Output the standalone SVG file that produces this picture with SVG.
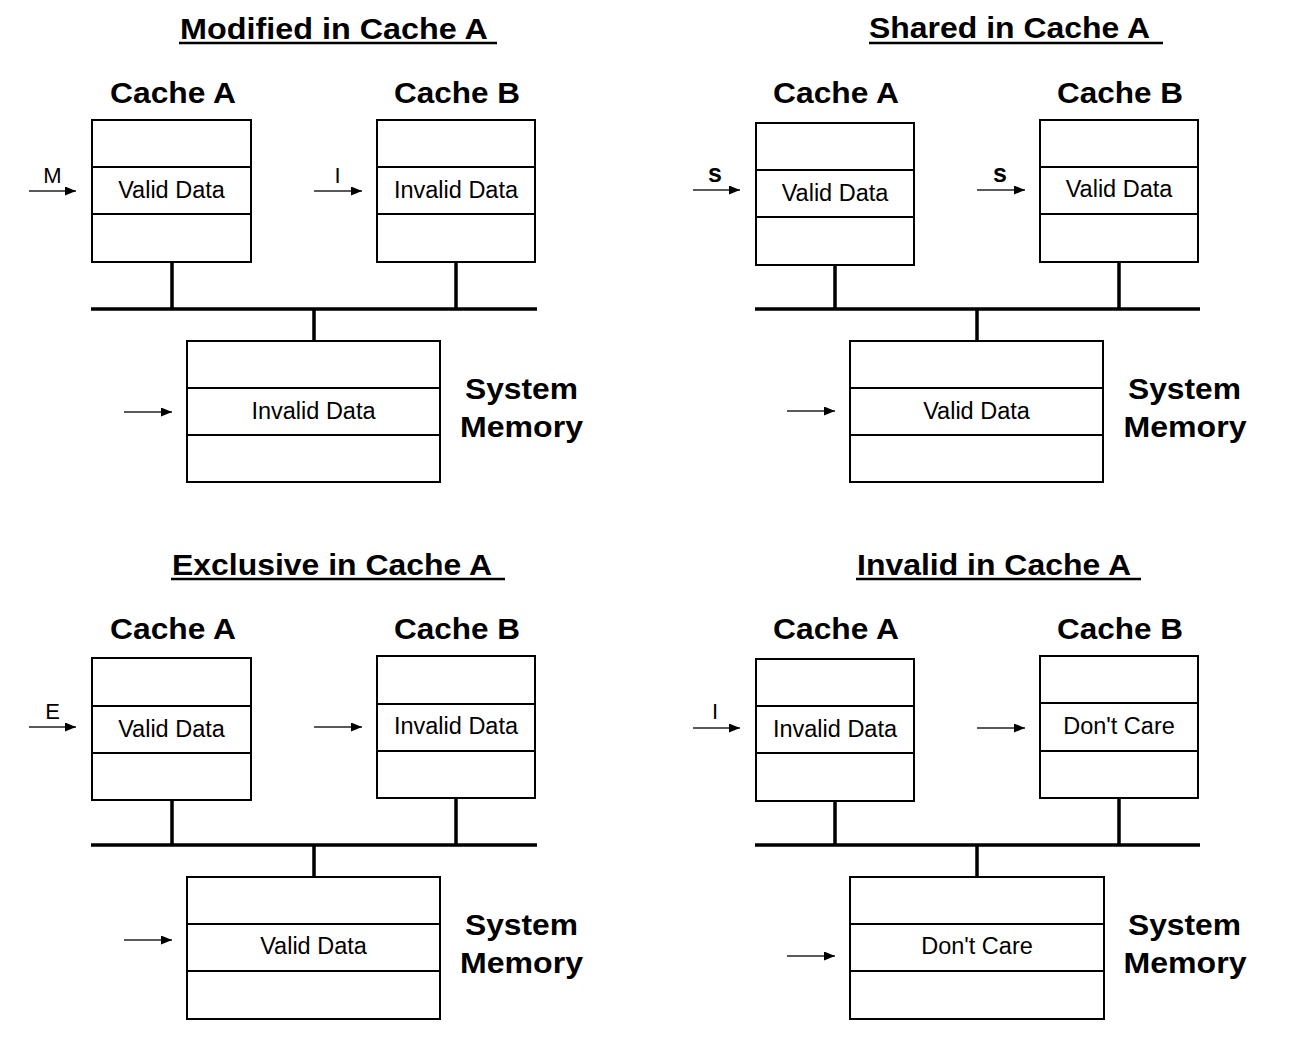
<svg xmlns="http://www.w3.org/2000/svg" width="1296" height="1041" viewBox="0 0 1296 1041">
<style>
.bg{fill:#fff}
.box{fill:none;stroke:#000;stroke-width:2}
.div{stroke:#000;stroke-width:2}
.bus{stroke:#000;stroke-width:3.5;fill:none}
.arr{stroke:#222;stroke-width:1.6;fill:none;marker-end:url(#ah)}
.ul{stroke:#000;stroke-width:2.5}
text{font-family:"Liberation Sans",Arial,sans-serif;fill:#000}
.title{font-size:29px;font-weight:bold}
.lbl{font-size:29px;font-weight:bold;text-anchor:middle}
.cell{font-size:23.5px;text-anchor:middle}
.st{font-size:22px;text-anchor:middle}
.stb{font-size:25px;font-weight:bold;text-anchor:middle}
</style>
<defs>
<marker id="ah" markerUnits="userSpaceOnUse" markerWidth="12" markerHeight="10" refX="11" refY="4.5" orient="auto">
<path d="M0,0 L11,4.5 L0,9 z" fill="#000"/>
</marker>
</defs>
<rect class="bg" x="0" y="0" width="1296" height="1041"/>

<!-- ===== Panel 1: Modified ===== -->
<g id="p1-title">
<text class="title" x="180" y="39" textLength="308" lengthAdjust="spacingAndGlyphs">Modified in Cache A</text>
<line class="ul" x1="179" y1="43" x2="497" y2="43"/>
</g>
<g id="p1-cacheA">
<text class="lbl" x="173" y="103" textLength="126" lengthAdjust="spacingAndGlyphs">Cache A</text>
<rect class="box" x="92" y="120" width="159" height="142"/>
<line class="div" x1="92" y1="167" x2="251" y2="167"/>
<line class="div" x1="92" y1="214" x2="251" y2="214"/>
<text class="cell" x="171.5" y="198">Valid Data</text>
</g>
<g id="p1-cacheB">
<text class="lbl" x="457" y="103" textLength="126" lengthAdjust="spacingAndGlyphs">Cache B</text>
<rect class="box" x="377" y="120" width="158" height="142"/>
<line class="div" x1="377" y1="167" x2="535" y2="167"/>
<line class="div" x1="377" y1="214" x2="535" y2="214"/>
<text class="cell" x="456" y="198">Invalid Data</text>
</g>
<g id="p1-mem">
<rect class="box" x="187" y="341" width="253" height="141"/>
<line class="div" x1="187" y1="388" x2="440" y2="388"/>
<line class="div" x1="187" y1="435" x2="440" y2="435"/>
<text class="cell" x="313.5" y="419">Invalid Data</text>
<text class="lbl" x="521.5" y="399" textLength="113" lengthAdjust="spacingAndGlyphs">System</text>
<text class="lbl" x="521.5" y="437" textLength="123" lengthAdjust="spacingAndGlyphs">Memory</text>
</g>

<!-- ===== Panel 2: Shared ===== -->
<g id="p2-title">
<text class="title" x="869" y="38" textLength="281" lengthAdjust="spacingAndGlyphs">Shared in Cache A</text>
<line class="ul" x1="869" y1="43" x2="1163" y2="43"/>
</g>
<g id="p2-cacheA">
<text class="lbl" x="836" y="103" textLength="126" lengthAdjust="spacingAndGlyphs">Cache A</text>
<rect class="box" x="756" y="123" width="158" height="142"/>
<line class="div" x1="756" y1="170" x2="914" y2="170"/>
<line class="div" x1="756" y1="217" x2="914" y2="217"/>
<text class="cell" x="835" y="201">Valid Data</text>
</g>
<g id="p2-cacheB">
<text class="lbl" x="1120" y="103" textLength="126" lengthAdjust="spacingAndGlyphs">Cache B</text>
<rect class="box" x="1040" y="120" width="158" height="142"/>
<line class="div" x1="1040" y1="167" x2="1198" y2="167"/>
<line class="div" x1="1040" y1="214" x2="1198" y2="214"/>
<text class="cell" x="1119" y="197">Valid Data</text>
</g>
<g id="p2-mem">
<rect class="box" x="850" y="341" width="253" height="141"/>
<line class="div" x1="850" y1="388" x2="1103" y2="388"/>
<line class="div" x1="850" y1="435" x2="1103" y2="435"/>
<text class="cell" x="976.5" y="419">Valid Data</text>
<text class="lbl" x="1184.5" y="399" textLength="113" lengthAdjust="spacingAndGlyphs">System</text>
<text class="lbl" x="1185" y="437" textLength="123" lengthAdjust="spacingAndGlyphs">Memory</text>
</g>

<!-- ===== Panel 3: Exclusive ===== -->
<g id="p3-title">
<text class="title" x="172" y="575" textLength="320" lengthAdjust="spacingAndGlyphs">Exclusive in Cache A</text>
<line class="ul" x1="171" y1="579" x2="505" y2="579"/>
</g>
<g id="p3-cacheA">
<text class="lbl" x="173" y="639" textLength="126" lengthAdjust="spacingAndGlyphs">Cache A</text>
<rect class="box" x="92" y="658" width="159" height="142"/>
<line class="div" x1="92" y1="706" x2="251" y2="706"/>
<line class="div" x1="92" y1="753" x2="251" y2="753"/>
<text class="cell" x="171.5" y="737">Valid Data</text>
</g>
<g id="p3-cacheB">
<text class="lbl" x="457" y="639" textLength="126" lengthAdjust="spacingAndGlyphs">Cache B</text>
<rect class="box" x="377" y="656" width="158" height="142"/>
<line class="div" x1="377" y1="704" x2="535" y2="704"/>
<line class="div" x1="377" y1="751" x2="535" y2="751"/>
<text class="cell" x="456" y="734">Invalid Data</text>
</g>
<g id="p3-mem">
<rect class="box" x="187" y="877" width="253" height="142"/>
<line class="div" x1="187" y1="924" x2="440" y2="924"/>
<line class="div" x1="187" y1="971" x2="440" y2="971"/>
<text class="cell" x="313.5" y="954">Valid Data</text>
<text class="lbl" x="521.5" y="935" textLength="113" lengthAdjust="spacingAndGlyphs">System</text>
<text class="lbl" x="521.5" y="973" textLength="123" lengthAdjust="spacingAndGlyphs">Memory</text>
</g>

<!-- ===== Panel 4: Invalid ===== -->
<g id="p4-title">
<text class="title" x="857" y="575" textLength="274" lengthAdjust="spacingAndGlyphs">Invalid in Cache A</text>
<line class="ul" x1="856" y1="579" x2="1141" y2="579"/>
</g>
<g id="p4-cacheA">
<text class="lbl" x="836" y="639" textLength="126" lengthAdjust="spacingAndGlyphs">Cache A</text>
<rect class="box" x="756" y="659" width="158" height="142"/>
<line class="div" x1="756" y1="706" x2="914" y2="706"/>
<line class="div" x1="756" y1="753" x2="914" y2="753"/>
<text class="cell" x="835" y="737">Invalid Data</text>
</g>
<g id="p4-cacheB">
<text class="lbl" x="1120" y="639" textLength="126" lengthAdjust="spacingAndGlyphs">Cache B</text>
<rect class="box" x="1040" y="656" width="158" height="142"/>
<line class="div" x1="1040" y1="703" x2="1198" y2="703"/>
<line class="div" x1="1040" y1="751" x2="1198" y2="751"/>
<text class="cell" x="1119" y="734">Don't Care</text>
</g>
<g id="p4-mem">
<rect class="box" x="850" y="877" width="254" height="142"/>
<line class="div" x1="850" y1="924" x2="1104" y2="924"/>
<line class="div" x1="850" y1="971" x2="1104" y2="971"/>
<text class="cell" x="977" y="954">Don't Care</text>
<text class="lbl" x="1184.5" y="935" textLength="113" lengthAdjust="spacingAndGlyphs">System</text>
<text class="lbl" x="1185" y="973" textLength="123" lengthAdjust="spacingAndGlyphs">Memory</text>
</g>

<!-- ===== Connectors ===== -->
<g id="connectors">
<!-- panel 1 -->
<path class="bus" d="M91,309 H537 M172,262 V309 M456,262 V309 M314,309 V341"/>
<line class="arr" x1="29" y1="191" x2="76" y2="191"/>
<line class="arr" x1="314" y1="191" x2="362" y2="191"/>
<line class="arr" x1="124" y1="412" x2="172" y2="412"/>
<!-- panel 2 -->
<path class="bus" d="M755,309 H1200 M835,265 V309 M1119,262 V309 M977,309 V341"/>
<line class="arr" x1="693" y1="190" x2="740" y2="190"/>
<line class="arr" x1="977" y1="190" x2="1025" y2="190"/>
<line class="arr" x1="787" y1="411" x2="835" y2="411"/>
<!-- panel 3 -->
<path class="bus" d="M91,845 H537 M172,800 V845 M456,798 V845 M314,845 V877"/>
<line class="arr" x1="29" y1="727" x2="76" y2="727"/>
<line class="arr" x1="314" y1="727" x2="362" y2="727"/>
<line class="arr" x1="124" y1="940" x2="172" y2="940"/>
<!-- panel 4 -->
<path class="bus" d="M755,845 H1200 M835,801 V845 M1119,798 V845 M977,845 V877"/>
<line class="arr" x1="693" y1="728" x2="740" y2="728"/>
<line class="arr" x1="977" y1="728" x2="1025" y2="728"/>
<line class="arr" x1="787" y1="956" x2="835" y2="956"/>
</g>

<!-- arrow state labels -->
<g id="state-labels">
<text class="st" x="52.5" y="183">M</text>
<text class="st" x="337.5" y="183">I</text>
<text class="stb" x="715" y="182">s</text>
<text class="stb" x="1000" y="182">s</text>
<text class="st" x="52.5" y="719">E</text>
<text class="st" x="715" y="719">I</text>
</g>
</svg>
